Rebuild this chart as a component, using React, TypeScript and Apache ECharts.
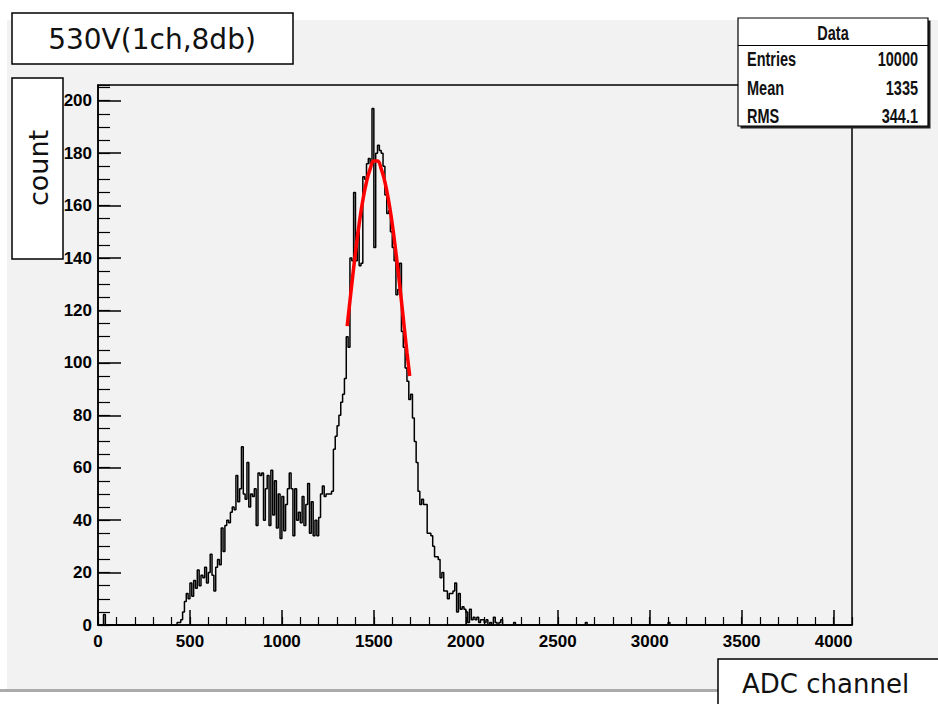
import React, { useEffect, useRef } from "react";
import * as echarts from "echarts";

// Histogram: 10-channel bins, 0 .. 4100
const binWidth = 10;
const xMax = 4100;
const yMax = 206;
const histStart = 430; // first bin of the main block below
const histCounts = [
  1, 1, 2, 5, 9, 12, 10, 16, 11, 17, // 430-520
  14, 21, 15, 19, 18, 22, 16, 20, 27, 19, // 530-620
  13, 22, 25, 23, 37, 28, 38, 40, 39, 43, // 630-720
  45, 44, 57, 47, 52, 68, 50, 48, 62, 45, // 730-820
  50, 49, 52, 38, 58, 57, 58, 40, 52, 57, // 830-920
  38, 59, 42, 55, 37, 50, 33, 49, 36, 46, // 930-1020
  52, 58, 52, 34, 52, 40, 43, 39, 49, 38, // 1030-1120
  46, 54, 35, 47, 34, 40, 34, 41, 50, 53, // 1130-1220
  49, 50, 50, 50, 51, 67, 72, 76, 80, 85, // 1230-1320
  88, 94, 110, 106, 140, 139, 165, 139, 150, 137, // 1330-1420
  138, 171, 170, 176, 178, 176, 197, 144, 180, 183, // 1430-1520
  181, 180, 175, 164, 157, 158, 150, 144, 139, 126, // 1530-1620
  128, 138, 112, 106, 98, 93, 86, 88, 79, 70, // 1630-1720
  62, 51, 46, 48, 46, 46, 35, 35, 34, 30, // 1730-1820
  26, 26, 25, 18, 20, 13, 13, 10, 12, 12, // 1830-1920
  13, 16, 5, 12, 6, 7, 6, 5, 1, 6, // 1930-2020
  2, 3, 2, 3, 1, 2, 2, 1, 2, 0, // 2030-2120
  1, 0, 3, 1, 0, 1, 2, // 2130-2190
];
// isolated bins outside the main block: [bin start, count]
const extraBins: [number, number][] = [
  [30, 4],
  [2260, 1],
  [2650, 1],
  [3100, 1],
];

// Gaussian fit curve: channel, count
const fitX = [1355, 1380, 1400, 1420, 1440, 1460, 1480, 1500, 1510, 1520, 1540, 1560, 1580, 1600, 1620, 1640, 1660, 1680, 1695];
const fitY = [114, 130, 142, 153, 162, 169, 174, 177, 177, 177, 174, 169, 162, 153, 142, 130, 117, 104, 95];

const titleText = "530V(1ch,8db)";
const yTitle = "count";
const xTitle = "ADC channel";
const statsTitle = "Data";
const statsNames = ["Entries", "Mean", "RMS"];
const statsValues = ["10000", "1335", "344.1"];

const tickFont = "'Liberation Sans Narrow', 'Liberation Sans', Arial, sans-serif";
const boxFont = "'DejaVu Sans', sans-serif";

export default function App() {
  const ref = useRef<HTMLDivElement>(null);
  useEffect(() => {
    if (!ref.current) return;
    const chart = echarts.init(ref.current, undefined, { renderer: "svg" });

    const nBins = Math.round(xMax / binWidth);
    const counts: number[] = new Array(nBins).fill(0);
    histCounts.forEach((c, i) => {
      counts[Math.round(histStart / binWidth) + i] = c;
    });
    extraBins.forEach(([x, c]) => {
      counts[Math.round(x / binWidth)] = c;
    });
    const histData: number[][] = counts.map((c, i) => [i * binWidth, c]);
    histData.push([xMax, 0]);
    const fitData = fitX.map((x, i) => [x, fitY[i]]);

    const statsLeft = 738;
    const statsTop = 18;
    const statsW = 190;
    const statsH = 108;
    const rowY = [59, 88, 116];
    const statFont = `bold 14.5px ${tickFont}`;
    const statScaleY = 1.4;

    const graphics: any[] = [
      { type: "rect", z: -10, shape: { x: 7, y: 20, width: 931, height: 669 }, style: { fill: "#f2f2f2" } },
      { type: "rect", z: -10, shape: { x: 0, y: 689, width: 718, height: 3 }, style: { fill: "#ababab" } },
      // title box
      { type: "rect", z: 50, shape: { x: 12, y: 13, width: 281, height: 51 }, style: { fill: "#fff", stroke: "#000", lineWidth: 1.5 } },
      { type: "text", z: 51, x: 152, y: 39, style: { text: titleText, font: `28px ${boxFont}`, fill: "#111", align: "center", verticalAlign: "middle" } },
      // y title box
      { type: "rect", z: 50, shape: { x: 12, y: 78, width: 51, height: 181 }, style: { fill: "#fff", stroke: "#000", lineWidth: 1.5 } },
      { type: "text", z: 51, x: 38, y: 168, rotation: Math.PI / 2, style: { text: yTitle, font: `27px ${boxFont}`, fill: "#111", align: "center", verticalAlign: "middle" } },
      // x title box
      { type: "rect", z: 50, shape: { x: 718, y: 659, width: 240, height: 60 }, style: { fill: "#fff", stroke: "#000", lineWidth: 1.5 } },
      { type: "text", z: 51, x: 742, y: 684, style: { text: xTitle, font: `26px ${boxFont}`, fill: "#111", align: "left", verticalAlign: "middle" } },
      // stats box
      { type: "rect", z: 60, shape: { x: statsLeft + 2.5, y: statsTop + 2.5, width: statsW, height: statsH }, style: { fill: "#222" } },
      { type: "rect", z: 61, shape: { x: statsLeft, y: statsTop, width: statsW, height: statsH }, style: { fill: "#fff", stroke: "#000", lineWidth: 1.2 } },
      { type: "line", z: 62, shape: { x1: statsLeft, y1: 45.5, x2: statsLeft + statsW, y2: 45.5 }, style: { stroke: "#000", lineWidth: 1.2 } },
      { type: "text", z: 62, x: statsLeft + statsW / 2, y: 33, scaleY: statScaleY, style: { text: statsTitle, font: statFont, fill: "#111", align: "center", verticalAlign: "middle" } },
    ];
    statsNames.forEach((n, i) => {
      graphics.push({ type: "text", z: 62, x: 747, y: rowY[i], scaleY: statScaleY, style: { text: n, font: statFont, fill: "#111", align: "left", verticalAlign: "middle" } });
      graphics.push({ type: "text", z: 62, x: 918, y: rowY[i], scaleY: statScaleY, style: { text: statsValues[i], font: statFont, fill: "#111", align: "right", verticalAlign: "middle" } });
    });

    const labelStyle = { color: "#000", fontFamily: tickFont, fontWeight: "bold", fontSize: 17 };

    const option: any = {
      animation: false,
      backgroundColor: "#ffffff",
      grid: {
        left: 98, right: 86, top: 85, bottom: 79,
        show: true, backgroundColor: "#f2f2f2", borderColor: "#000", borderWidth: 1.5,
      },
      xAxis: [
        {
          type: "value", min: 0, max: xMax, interval: 500, position: "bottom",
          axisLine: { show: true, onZero: false, lineStyle: { color: "#000", width: 1.5 } },
          axisTick: { show: true, inside: true, length: 15, lineStyle: { color: "#000", width: 1.5 } },
          splitLine: { show: false },
          axisLabel: { ...labelStyle, margin: 8, showMaxLabel: false, formatter: (v: number) => (v > 4000 ? "" : String(v)) },
        },
        {
          type: "value", min: 0, max: xMax, interval: 100, position: "bottom",
          axisLine: { show: false },
          axisTick: { show: true, inside: true, length: 8, lineStyle: { color: "#000", width: 1.2 } },
          splitLine: { show: false },
          axisLabel: { show: false },
        },
      ],
      yAxis: [
        {
          type: "value", min: 0, max: yMax, interval: 20, position: "left",
          axisLine: { show: true, onZero: false, lineStyle: { color: "#000", width: 1.5 } },
          axisTick: { show: true, inside: true, length: 23, lineStyle: { color: "#000", width: 1.5 } },
          splitLine: { show: false },
          axisLabel: { ...labelStyle, margin: 6, showMaxLabel: false, formatter: (v: number) => (v > 200 ? "" : String(v)) },
        },
        {
          type: "value", min: 0, max: yMax, interval: 5, position: "left",
          axisLine: { show: false },
          axisTick: { show: true, inside: true, length: 12, lineStyle: { color: "#000", width: 1.2 } },
          splitLine: { show: false },
          axisLabel: { show: false },
        },
      ],
      graphic: graphics,
      series: [
        {
          type: "line", xAxisIndex: 0, yAxisIndex: 0, data: histData, step: "end",
          showSymbol: false, symbol: "none", lineStyle: { color: "#000", width: 1.5 }, z: 3,
        },
        {
          type: "line", xAxisIndex: 0, yAxisIndex: 0, data: fitData, smooth: true,
          showSymbol: false, symbol: "none", lineStyle: { color: "#ff0000", width: 3.5 }, z: 4,
        },
      ],
    };
    chart.setOption(option);
    return () => chart.dispose();
  }, []);
  return <div ref={ref} style={{ position: "fixed", left: 0, top: 0, width: 938, height: 704 }} />;
}
